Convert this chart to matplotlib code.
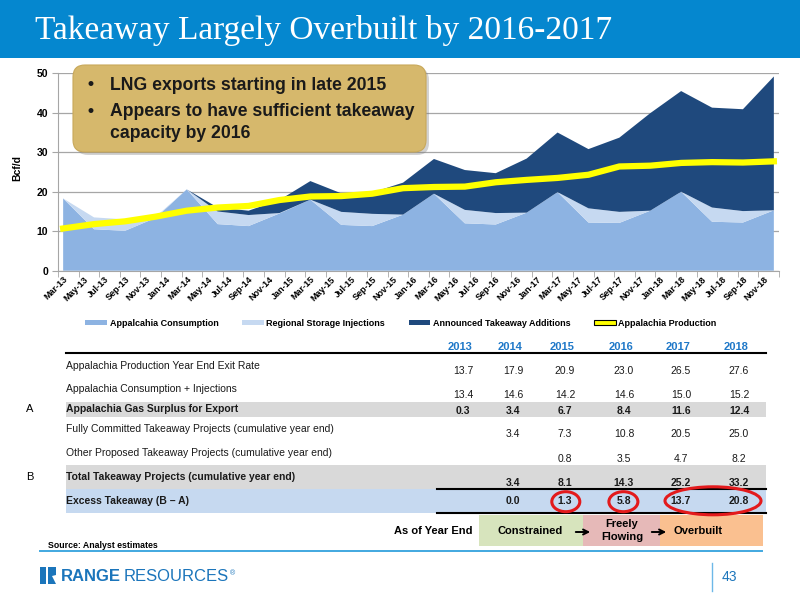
import matplotlib
matplotlib.use('Agg')
import matplotlib.pyplot as plt
import matplotlib.transforms as mtransforms
from matplotlib.patches import Rectangle, FancyBboxPatch, Ellipse, FancyArrowPatch, Patch, Polygon
from matplotlib.lines import Line2D
from matplotlib.text import Annotation
from matplotlib import font_manager

plt.rcParams['font.family'] = ['Liberation Sans', 'DejaVu Sans']
installed = {f.name for f in font_manager.fontManager.ttflist}
narrow = 'Liberation Sans Narrow' if 'Liberation Sans Narrow' in installed else 'Liberation Sans'

# ---- chart data (quarterly, Bcf/d) ----
months = ['Jan', 'Feb', 'Mar', 'Apr', 'May', 'Jun', 'Jul', 'Aug', 'Sep', 'Oct', 'Nov', 'Dec']
# monthly categories Mar-13 .. Dec-18, labelled every other month
n_months = 70
tick_labels = ['%s-%02d' % (months[(2 + m) % 12], 13 + (2 + m) // 12) for m in range(0, n_months, 2)]
quarter_x = [3 * i for i in range(24)]   # Mar-13, Jun-13, Sep-13, Dec-13, ... Dec-18

consumption = [18.3, 10.5, 10.1, 13.4, 20.6, 11.8, 11.3, 14.5,
               18.0, 11.6, 11.3, 14.2, 19.5, 12.0, 11.7, 14.7,
               19.9, 12.2, 12.1, 15.2, 20.0, 12.4, 12.2, 15.3]
storage = [0.0, 3.0, 2.9, 0.3, 0.0, 3.2, 2.8, 0.1,
           0.0, 3.3, 3.1, 0.0, 0.0, 3.4, 2.9, 0.0,
           0.0, 3.6, 2.8, 0.0, 0.0, 3.6, 2.9, 0.0]
takeaway = [0.0, 0.0, 0.0, 0.0, 0.0, 1.0, 1.1, 3.3,
            4.7, 4.7, 5.4, 8.1, 8.8, 10.1, 10.1, 13.7,
            15.1, 15.0, 18.8, 24.7, 25.5, 25.3, 25.8, 33.9]
production = [10.7, 11.8, 12.5, 13.7, 15.2, 16.0, 16.4, 17.9,
              18.8, 18.9, 19.5, 20.9, 21.2, 21.3, 22.4, 23.0,
              23.5, 24.3, 26.4, 26.6, 27.3, 27.5, 27.4, 27.7]
series_names = ['Appalcahia Consumption', 'Regional Storage Injections',
                'Announced Takeaway Additions', 'Appalachia Production']

# ---- table data ----
years = ['2013', '2014', '2015', '2016', '2017', '2018']
production_exit = [13.7, 17.9, 20.9, 23.0, 26.5, 27.6]
cons_inj = [13.4, 14.6, 14.2, 14.6, 15.0, 15.2]
surplus = [0.3, 3.4, 6.7, 8.4, 11.6, 12.4]
committed = [None, 3.4, 7.3, 10.8, 20.5, 25.0]
proposed = [None, None, 0.8, 3.5, 4.7, 8.2]
total_takeaway = [None, 3.4, 8.1, 14.3, 25.2, 33.2]
excess = [None, 0.0, 1.3, 5.8, 13.7, 20.8]

c_cons = '#8DB3E2'
c_stor = '#C6D9F1'
c_take = '#1F497D'
c_prod = '#FFFF00'
blue = '#0587CF'
logo_blue = '#1B75BB'

fig = plt.figure(figsize=(8, 6), dpi=100)
# pixel coordinates, origin top-left
T = mtransforms.Affine2D().scale(1 / 100, -1 / 100).translate(0, 6) + fig.dpi_scale_trans


def txt(x, y, s, **kw):
    kw.setdefault('va', 'center')
    return fig.text(x, y, s, transform=T, **kw)


def hline(x0, x1, y, color='black', lw=1.2):
    fig.add_artist(Line2D([x0, x1], [y, y], transform=T, color=color, lw=lw))


def box(x0, y0, x1, y1, color):
    fig.add_artist(Rectangle((x0, y0), x1 - x0, y1 - y0, transform=T, fc=color, ec='none', zorder=0.5))


# title bar
box(0, 0, 800, 58, blue)
txt(35, 31, 'Takeaway Largely Overbuilt by 2016-2017', color='white', fontsize=24,
    family=['Liberation Serif', 'DejaVu Serif'])

# ---- chart ----
ax = fig.add_axes([58 / 800, 1 - 270.7 / 600, (779 - 58) / 800, (270.7 - 73.3) / 600])
ax.stackplot(quarter_x, consumption, storage, takeaway, colors=[c_cons, c_stor, c_take], lw=0)
ax.plot(quarter_x, production, color=c_prod, lw=4.5)
ax.set_xlim(-0.5, n_months - 0.5)
ax.set_ylim(0, 50)
ax.set_yticks(range(0, 51, 10))
ax.yaxis.grid(True, color='#A6A6A6', lw=0.9)
ax.set_axisbelow(True)
for s in ['top', 'right']:
    ax.spines[s].set_visible(False)
for s in ['left', 'bottom']:
    ax.spines[s].set_color('#A6A6A6')
ax.set_xticks(range(0, n_months, 2))
ax.set_xticklabels(tick_labels, rotation=45, ha='right', va='top', rotation_mode='anchor',
                   fontsize=6.5, fontweight='bold')
ax.set_xticks([k - 0.5 for k in range(0, n_months + 1, 2)], minor=True)
ax.tick_params(axis='x', which='major', length=0, pad=3)
ax.tick_params(axis='x', which='minor', length=4, color='#A6A6A6')
ax.tick_params(axis='y', length=4, color='#A6A6A6', labelsize=7.5, pad=3)
for lbl in ax.get_yticklabels():
    lbl.set_fontweight('bold')
txt(17, 168, 'Bcf/d', rotation=90, fontsize=7.5, fontweight='bold', ha='center')

handles = [Patch(fc=c_cons), Patch(fc=c_stor), Patch(fc=c_take),
           Patch(fc=c_prod, ec='black', lw=0.8)]
fig.legend(handles, series_names, loc='center', bbox_to_anchor=(401 / 800, 1 - 323 / 600),
           ncol=4, frameon=False, prop={'weight': 'bold', 'size': 6.5},
           handlelength=2.4, handleheight=0.55, handletextpad=0.3, columnspacing=2.6)

# callout box
fig.add_artist(FancyBboxPatch((76, 68), 353, 87, boxstyle='round,pad=0,rounding_size=12',
                              transform=T, fc='#7F7F7F', ec='none', alpha=0.35, zorder=1))
fig.add_artist(FancyBboxPatch((73, 65), 353, 87, boxstyle='round,pad=0,rounding_size=12',
                              transform=T, fc='#D6B86C', ec='#C8A85A', lw=0.8, zorder=1.1))
callout_kw = dict(fontsize=12.7, fontweight='bold', color='#1A1A1A')
txt(88, 85, '•', **callout_kw)
txt(110, 85, 'LNG exports starting in late 2015', **callout_kw)
txt(88, 111.5, '•', **callout_kw)
txt(110, 111.5, 'Appears to have sufficient takeaway', **callout_kw)
txt(110, 133, 'capacity by 2016', **callout_kw)

# ---- table ----
col_x = [463, 513, 565, 624, 681, 739]
for x, yr in zip(col_x, years):
    txt(x - 3, 347, yr, ha='center', fontsize=8, fontweight='bold', color='#1F78C8')
hline(66, 766, 353.3, lw=1.5)

box(66, 401.7, 766, 416.7, '#D9D9D9')
box(66, 465, 766, 489.3, '#D9D9D9')
box(66, 489.3, 766, 513.3, '#C6D9F0')

rows = [
    ('Appalachia Production Year End Exit Rate', production_exit, 366, 371, 'normal'),
    ('Appalachia Consumption + Injections', cons_inj, 389, 395.5, 'normal'),
    ('Appalachia Gas Surplus for Export', surplus, 409, 410.5, 'bold'),
    ('Fully Committed Takeaway Projects (cumulative year end)', committed, 429, 434, 'normal'),
    ('Other Proposed Takeaway Projects (cumulative year end)', proposed, 452.7, 459, 'normal'),
    ('Total Takeaway Projects (cumulative year end)', total_takeaway, 477, 483, 'bold'),
    ('Excess Takeaway (B \u2013 A)', excess, 501.5, 501.5, 'bold'),
]
for label, vals, ly, vy, w in rows:
    txt(66, ly, label, fontsize=7.5, fontweight=w, color='#1A1A1A')
    for x, v in zip(col_x, vals):
        if v is not None:
            txt(x, vy, '%.1f' % v, ha='center', fontsize=7.5, fontweight=w, color='#1A1A1A')
txt(30, 409, 'A', fontsize=8, ha='center')
txt(30, 477, 'B', fontsize=8, ha='center')
hline(437, 766, 489.3, lw=1.5)
hline(437, 766, 513.3, lw=1.5)

for cx, cy, w, h in [(565.8, 501.7, 28, 20), (623.4, 501.7, 29, 20), (713, 500.8, 96, 28)]:
    fig.add_artist(Ellipse((cx, cy), w, h, transform=T, fc='none', ec='#E31A1C', lw=2.2, zorder=2))

# status boxes
txt(472, 531.5, 'As of Year End', ha='right', fontsize=8, fontweight='bold')
box(479, 515, 583.3, 545.7, '#D7E4BD')
box(583.3, 515, 660, 545.7, '#E6B9B8')
box(660, 515, 763.3, 545.7, '#FAC090')
txt(530, 531, 'Constrained', ha='center', fontsize=8, fontweight='bold')
txt(622, 524, 'Freely', ha='center', fontsize=8, fontweight='bold')
txt(622, 537.5, 'Flowing', ha='center', fontsize=8, fontweight='bold')
txt(698, 530.5, 'Overbuilt', ha='center', fontsize=8, fontweight='bold')
for x0, x1 in [(573, 593), (649, 669)]:
    fig.add_artist(FancyArrowPatch((x0, 532), (x1, 532), transform=T, arrowstyle='->',
                                   mutation_scale=9, lw=1.4, color='black', zorder=2))

txt(48, 545, 'Source: Analyst estimates', fontsize=6.3, fontweight='bold', family=[narrow, 'DejaVu Sans'])
hline(40, 762, 550.5, color='#41A8E0', lw=1.4)

# footer
fig.add_artist(Rectangle((40, 567), 6, 17, transform=T, fc=logo_blue, ec='none'))
fig.add_artist(Polygon([(48, 567), (56, 567), (56, 575), (52, 576), (56, 584), (48, 584)],
                       transform=T, fc=logo_blue, ec='none'))
t1 = txt(61, 584, 'RANGE', va='bottom', fontsize=12, fontweight='bold', color=logo_blue,
         family=[narrow, 'DejaVu Sans'])
t2 = Annotation('RESOURCES', xy=(1, 0), xycoords=t1, xytext=(2, 0), textcoords='offset points',
                va='bottom', fontsize=12, color=logo_blue, family=[narrow, 'DejaVu Sans'])
fig.add_artist(t2)
t3 = Annotation('\u00ae', xy=(1, 1), xycoords=t2, xytext=(0.5, -1), textcoords='offset points',
                va='top', fontsize=5, color=logo_blue)
fig.add_artist(t3)
fig.add_artist(Line2D([712, 712], [563, 591], transform=T, color='#6DB8E8', lw=1))
txt(722, 577, '43', fontsize=10, color=logo_blue, family=[narrow, 'DejaVu Sans'])

fig.savefig('out.png', dpi=100)
